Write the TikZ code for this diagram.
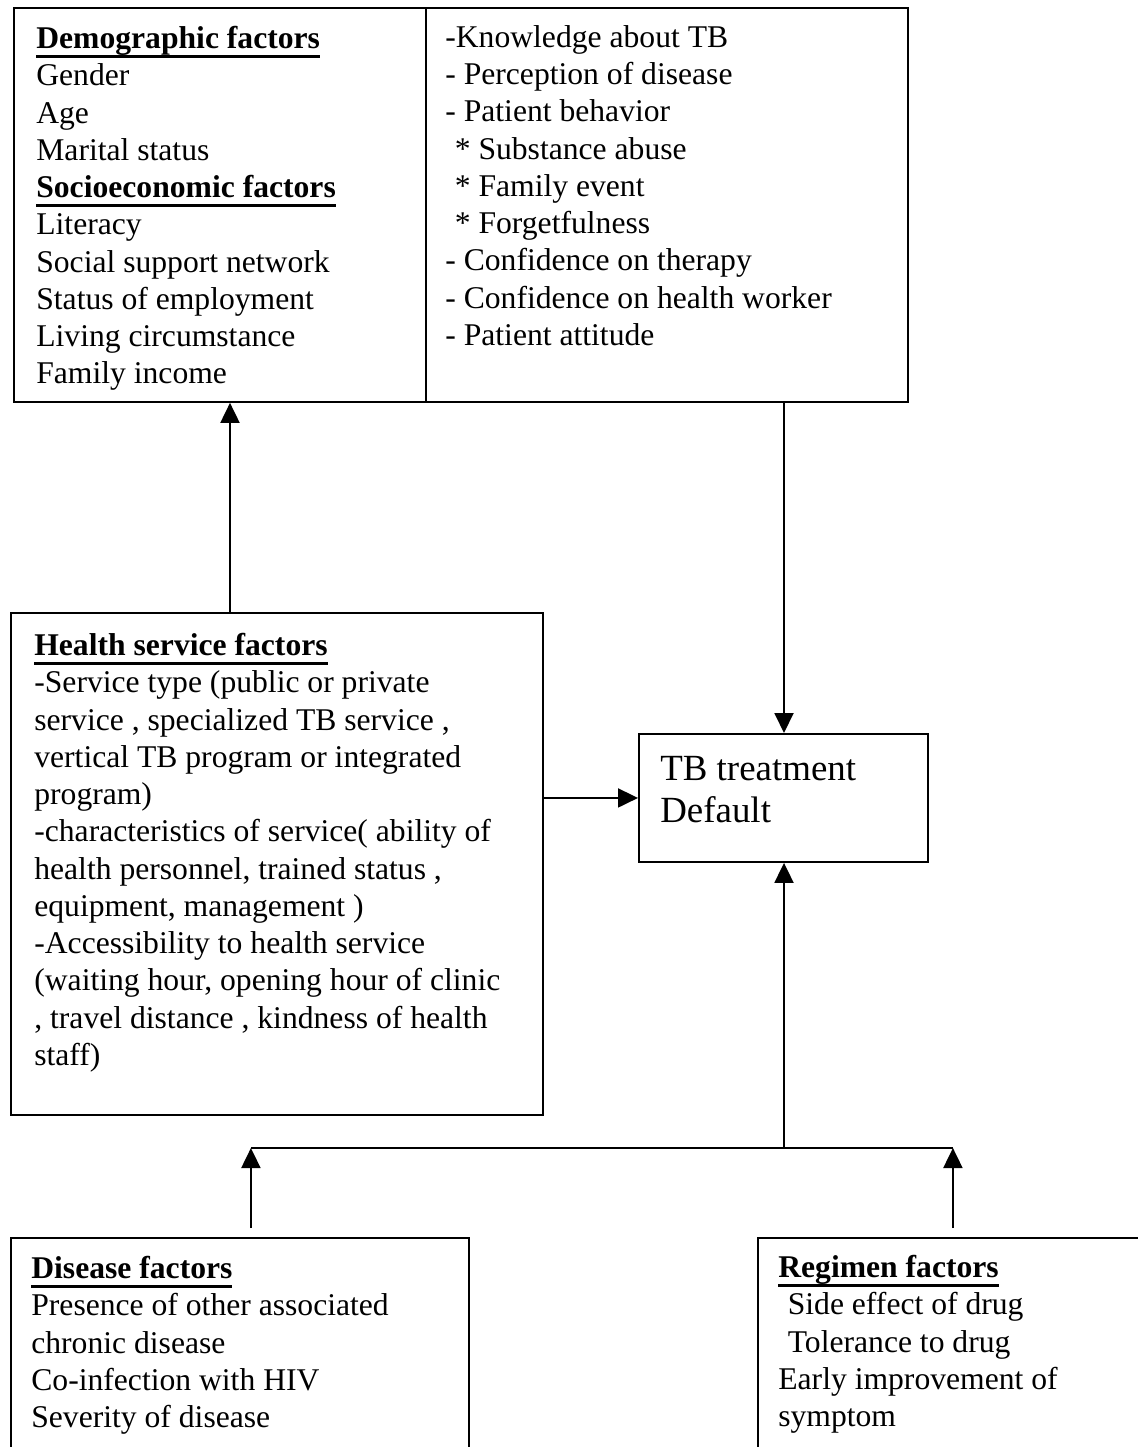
\documentclass[tikz,border=0pt]{standalone}
\usepackage{fontspec}
\setmainfont{Liberation Serif}
\usepackage{tikz}
\usetikzlibrary{arrows.meta}

\newlength{\headlen}
\newcommand{\heading}[1]{\settowidth{\headlen}{\textbf{#1}}%
	\textbf{#1}\hspace{-\headlen}\rule[-5.2pt]{\headlen}{1.3pt}}

\begin{document}
\begin{tikzpicture}[
		x=0.02cm, y=-0.02cm
		,every node/.append style={inner sep=0pt}
		,box/.style={draw, line width=1.1pt, anchor=north west}
		,txt/.style={anchor=north west, align=left, font=\fontsize{18}{21.2}\selectfont}
		,big/.style={anchor=north west, align=left, font=\fontsize{21}{23.8}\selectfont}
		,con/.style={line width=1.1pt}
		,arr/.style={con, -{Triangle[length=0.4cm, width=0.38cm]}}
	]
	\clip (0,0) rectangle (1138,1447);
	% boxes
	\node [box, minimum width=8.24cm, minimum height=7.88cm] (demo) at (13,7) {};
	\node [box, minimum width=9.64cm, minimum height=7.88cm] (behav) at (425,7) {};
	\node [box, minimum width=10.64cm, minimum height=10.04cm] (health) at (10,612) {};
	\node [box, minimum width=5.78cm, minimum height=2.56cm] (tb) at (638,733) {};
	\node [box, minimum width=9.16cm, minimum height=5cm] (disease) at (10,1237) {};
	\node [box, minimum width=7.8cm, minimum height=5cm] (regimen) at (757,1237) {};
	% texts
	\node [txt] (demotxt) at (36,26) {\heading{Demographic factors}\\
		Gender\\ Age\\ Marital status\\
		\heading{Socioeconomic factors}\\
		Literacy\\ Social support network\\ Status of employment\\
		Living circumstance\\ Family income};
	\node [txt] (behavtxt) at (445,25) {-Knowledge about TB\\
		- Perception of disease\\ - Patient behavior\\
		\hspace{0.3em}* Substance abuse\\ \hspace{0.3em}* Family event\\
		\hspace{0.3em}* Forgetfulness\\ - Confidence on therapy\\
		- Confidence on health worker\\ - Patient attitude};
	\node [txt] (healthtxt) at (34,633) {\heading{Health service factors}\\
		-Service type (public or private\\
		service , specialized TB service ,\\
		vertical TB program or integrated\\
		program)\\
		-characteristics of service( ability of\\
		health personnel, trained status ,\\
		equipment, management )\\
		-Accessibility to health service\\
		(waiting hour, opening hour of clinic\\
		, travel distance , kindness of health\\
		staff)};
	\node [big] (tbtxt) at (660,756) {TB treatment\\ Default};
	\node [txt] (diseasetxt) at (31,1256) {\heading{Disease factors}\\
		Presence of other associated\\ chronic disease\\
		Co-infection with HIV\\ Severity of disease};
	\node [txt] (regimentxt) at (778,1255) {\heading{Regimen factors}\\
		\hspace{0.3em}Side effect of drug\\ \hspace{0.3em}Tolerance to drug\\
		Early improvement of\\ symptom};
	% arrows
	\coordinate (up) at (230,0);
	\coordinate (bar) at (784,1148);
	\coordinate (dtop) at ([xshift=0.22cm, yshift=0.18cm]disease.north);
	\coordinate (rtop) at ([yshift=0.18cm]regimen.north);
	\draw [arr] (health.north -| up) -- (demo.south -| up);
	\draw [arr] (behav.south -| bar) -- (tb.north -| bar);
	\draw [arr] (health.east |- tb.west) -- (tb.west);
	\draw [arr] (dtop) -- (dtop |- bar);
	\draw [arr] (rtop) -- (rtop |- bar);
	\draw [con] (dtop |- bar) -- (rtop |- bar);
	\draw [arr] (bar) -- (tb.south -| bar);
\end{tikzpicture}
\end{document}
